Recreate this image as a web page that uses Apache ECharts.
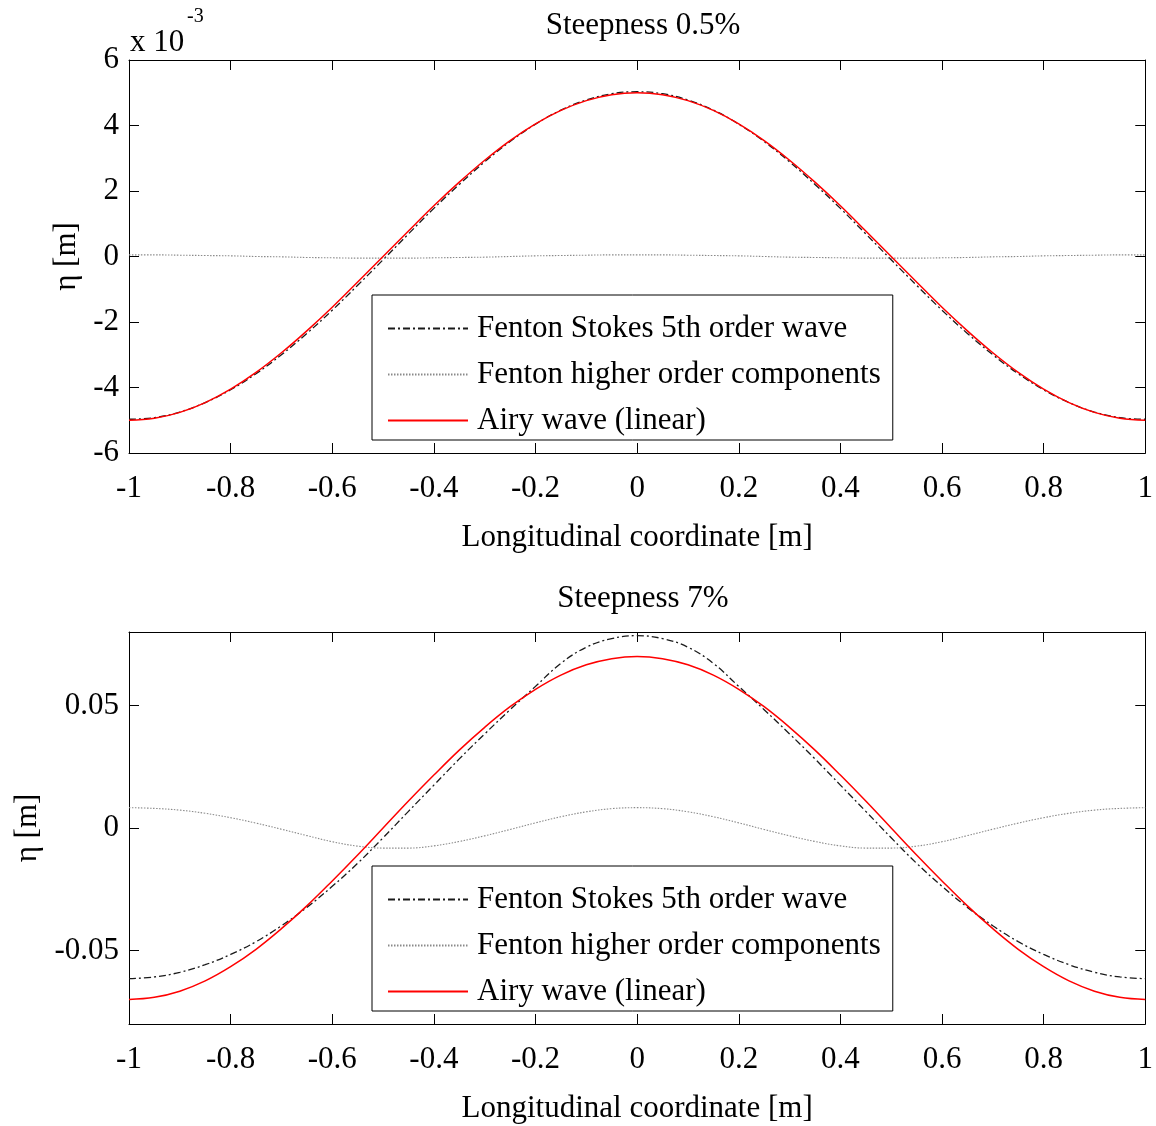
<!DOCTYPE html>
<html>
<head>
<meta charset="utf-8">
<script src="https://cdn.jsdelivr.net/npm/echarts@6/dist/echarts.min.js"></script>
<style>
html,body{margin:0;padding:0;background:#fff;}
#chart{width:1156px;height:1126px;}
</style>
</head>
<body>
<div id="chart"></div>
<script>
// Longitudinal coordinate [m]
const xs = [-1,-0.95,-0.9,-0.85,-0.8,-0.75,-0.7,-0.65,-0.6,-0.55,-0.5,-0.45,-0.4,-0.35,-0.3,-0.25,-0.2,-0.15,-0.1,-0.05,0,0.05,0.1,0.15,0.2,0.25,0.3,0.35,0.4,0.45,0.5,0.55,0.6,0.65,0.7,0.75,0.8,0.85,0.9,0.95,1];

// Steepness 0.5% (values in units of 1e-3 m)
const topFenton = [-4.97,-4.92,-4.75,-4.46,-4.07,-3.58,-3.00,-2.35,-1.64,-0.88,-0.10,0.69,1.47,2.20,2.89,3.51,4.04,4.47,4.78,4.97,5.03,4.97,4.78,4.47,4.04,3.51,2.89,2.20,1.47,0.69,-0.10,-0.88,-1.64,-2.35,-3.00,-3.58,-4.07,-4.46,-4.75,-4.92,-4.97];
const topHoc = [0.05,0.05,0.04,0.03,0.02,0.00,-0.01,-0.03,-0.04,-0.05,-0.05,-0.05,-0.04,-0.03,-0.02,0.00,0.02,0.03,0.04,0.05,0.05,0.05,0.04,0.03,0.02,0.00,-0.02,-0.03,-0.04,-0.05,-0.05,-0.05,-0.04,-0.03,-0.01,0.00,0.02,0.03,0.04,0.05,0.05];
const topAiry = [-5.00,-4.94,-4.76,-4.46,-4.05,-3.54,-2.94,-2.27,-1.55,-0.78,0.00,0.78,1.55,2.27,2.94,3.54,4.05,4.46,4.76,4.94,5.00,4.94,4.76,4.46,4.05,3.54,2.94,2.27,1.55,0.78,0.00,-0.78,-1.55,-2.27,-2.94,-3.54,-4.05,-4.46,-4.76,-4.94,-5.00];

// Steepness 7% (values in m)
const botFenton = [-0.0615,-0.0608,-0.0589,-0.0558,-0.0516,-0.0464,-0.0399,-0.0324,-0.0238,-0.0144,-0.0040,0.0068,0.0175,0.0282,0.0384,0.0483,0.0578,0.0672,0.0738,0.0773,0.0785,0.0773,0.0738,0.0672,0.0578,0.0483,0.0384,0.0282,0.0175,0.0068,-0.0040,-0.0144,-0.0238,-0.0324,-0.0399,-0.0464,-0.0516,-0.0558,-0.0589,-0.0608,-0.0615];
const botHoc = [0.0083,0.0080,0.0073,0.0060,0.0042,0.0020,-0.0005,-0.0031,-0.0056,-0.0074,-0.0082,-0.0082,-0.0073,-0.0055,-0.0032,-0.0006,0.0021,0.0046,0.0066,0.0079,0.0083,0.0079,0.0066,0.0046,0.0021,-0.0006,-0.0032,-0.0055,-0.0073,-0.0082,-0.0082,-0.0074,-0.0056,-0.0031,-0.0005,0.0020,0.0042,0.0060,0.0073,0.0080,0.0083];
const botAiry = [-0.0700,-0.0691,-0.0666,-0.0624,-0.0566,-0.0495,-0.0411,-0.0318,-0.0216,-0.0110,0.0000,0.0110,0.0216,0.0318,0.0411,0.0495,0.0566,0.0624,0.0666,0.0691,0.0700,0.0691,0.0666,0.0624,0.0566,0.0495,0.0411,0.0318,0.0216,0.0110,0.0000,-0.0110,-0.0216,-0.0318,-0.0411,-0.0495,-0.0566,-0.0624,-0.0666,-0.0691,-0.0700];

const seriesNames = ['Fenton Stokes 5th order wave','Fenton higher order components','Airy wave (linear)'];
const titles = ['Steepness 0.5%','Steepness 7%'];
const xName = 'Longitudinal coordinate [m]';
const yName = 'η [m]';
const botYTicks = [-0.05, 0, 0.05];

const FONT = 'Liberation Serif';
const FS = 31;
const txt = {color:'#000', fontFamily: FONT, fontSize: FS};
const zip = (a) => xs.map((x, i) => [x, a[i]]);

const lineStyles = [
  {color:'#1a1a1a', width:1.3, type:[7,3,2,3]},
  {color:'#8a8a8a', width:1.1, type:[1.5,1.5]},
  {color:'#ff0000', width:1.5, type:'solid'}
];

function xAxes(gi) {
  return [
    {gridIndex: gi, type:'value', min:-1, max:1, interval:0.2, position:'bottom',
     name: xName, nameLocation:'middle', nameGap: 69, nameTextStyle: txt,
     axisLine:{show:true, onZero:false, lineStyle:{color:'#000', width:1}},
     axisTick:{show:true, inside:true, length:10, lineStyle:{color:'#000'}},
     axisLabel:{show:true, margin:20, ...txt, formatter: v => String(Math.round(v*10)/10)},
     splitLine:{show:false}},
    {gridIndex: gi, type:'value', min:-1, max:1, interval:0.2, position:'top',
     axisLine:{show:true, onZero:false, lineStyle:{color:'#000', width:1}},
     axisTick:{show:true, inside:true, length:10, lineStyle:{color:'#000'}},
     axisLabel:{show:false}, splitLine:{show:false}}
  ];
}

function legendAt(top) {
  return {left:372, top: top, orient:'vertical', data: seriesNames,
    backgroundColor:'#fff', borderColor:'#000', borderWidth:1,
    padding:[18,12,4,15], itemWidth:80, itemHeight:30, itemGap:15,
    itemStyle:{opacity:0, color:'transparent', borderWidth:0},
    textStyle:{...txt, lineHeight:30, padding:[0,0,0,4]}, selectedMode:false, z:10};
}

const yLab = {show:true, margin:10, ...txt, padding:[4,0,0,0]};

const option = {
  animation: false,
  backgroundColor: '#fff',
  title: [
    {text: titles[0], left: 638, top: 5, textAlign:'center', textStyle:{...txt, fontWeight:'normal'}},
    {text: 'x 10', left: 125, top: 22, textStyle:{...txt, fontWeight:'normal'}},
    {text: '-3', left: 182, top: 2, textStyle:{...txt, fontSize:20, fontWeight:'normal'}},
    {text: titles[1], left: 638, top: 578, textAlign:'center', textStyle:{...txt, fontWeight:'normal'}}
  ],
  grid: [
    {left:129, top:60, width:1017, height:393},
    {left:129, top:632, width:1017, height:392}
  ],
  xAxis: [...xAxes(0), ...xAxes(1)],
  yAxis: [
    {gridIndex:0, type:'value', min:-6, max:6, interval:2, position:'left',
     name: yName, nameLocation:'middle', nameRotate:90, nameGap:46, nameTextStyle: txt,
     axisLine:{show:true, onZero:false, lineStyle:{color:'#000', width:1}},
     axisTick:{show:true, inside:true, length:10, lineStyle:{color:'#000'}},
     axisLabel: yLab, splitLine:{show:false}},
    {gridIndex:0, type:'value', min:-6, max:6, interval:2, position:'right',
     axisLine:{show:true, onZero:false, lineStyle:{color:'#000', width:1}},
     axisTick:{show:true, inside:true, length:10, lineStyle:{color:'#000'}},
     axisLabel:{show:false}, splitLine:{show:false}},
    {gridIndex:1, type:'value', min:-0.08, max:0.08, position:'left',
     name: yName, nameLocation:'middle', nameRotate:90, nameGap:46, nameTextStyle: txt,
     axisLine:{show:true, onZero:false, lineStyle:{color:'#000', width:1}},
     axisTick:{show:true, inside:true, length:10, lineStyle:{color:'#000'}, customValues: botYTicks},
     axisLabel:{...yLab, customValues: botYTicks,
       formatter: v => (Math.abs(v) < 1e-9 ? '0' : v.toFixed(2))},
     splitLine:{show:false}},
    {gridIndex:1, type:'value', min:-0.08, max:0.08, position:'right',
     axisLine:{show:true, onZero:false, lineStyle:{color:'#000', width:1}},
     axisTick:{show:true, inside:true, length:10, lineStyle:{color:'#000'}, customValues: botYTicks},
     axisLabel:{show:false}, splitLine:{show:false}}
  ],
  legend: [legendAt(295), legendAt(866)],
  series: [
    {name: seriesNames[0], type:'line', xAxisIndex:0, yAxisIndex:0, data: zip(topFenton), lineStyle: lineStyles[0]},
    {name: seriesNames[1], type:'line', xAxisIndex:0, yAxisIndex:0, data: zip(topHoc), lineStyle: lineStyles[1]},
    {name: seriesNames[2], type:'line', xAxisIndex:0, yAxisIndex:0, data: zip(topAiry), lineStyle: lineStyles[2]},
    {name: seriesNames[0], type:'line', xAxisIndex:2, yAxisIndex:2, data: zip(botFenton), lineStyle: lineStyles[0]},
    {name: seriesNames[1], type:'line', xAxisIndex:2, yAxisIndex:2, data: zip(botHoc), lineStyle: lineStyles[1]},
    {name: seriesNames[2], type:'line', xAxisIndex:2, yAxisIndex:2, data: zip(botAiry), lineStyle: lineStyles[2]}
  ].map((s, i) => ({...s, smooth:0.4, symbol:'none', showSymbol:false,
      itemStyle:{color: s.lineStyle.color}, z: 2 + (i % 3)}))
};

const chart = echarts.init(document.getElementById('chart'), null, {renderer:'canvas'});
chart.setOption(option);
</script>
</body>
</html>
